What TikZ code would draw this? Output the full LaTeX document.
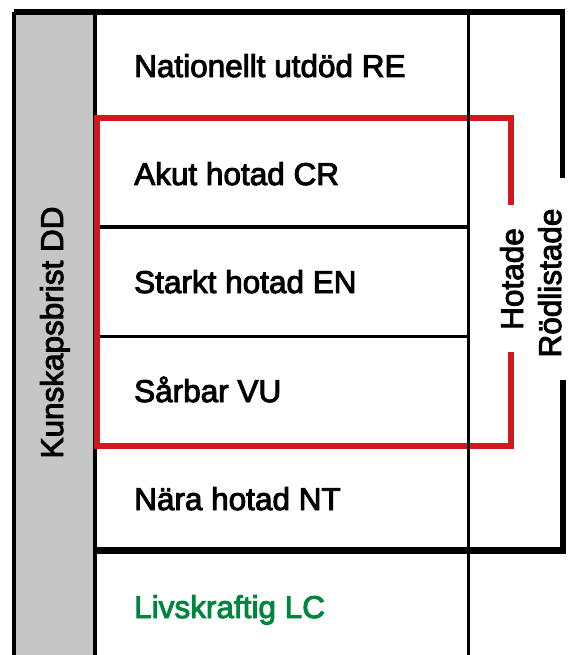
\documentclass[tikz,border=0pt]{standalone}
\usepackage{fontspec}
\setmainfont{Liberation Sans}[FakeBold=3]
\definecolor{listred}{RGB}{208,24,30}
\definecolor{listgreen}{RGB}{0,133,62}
\definecolor{ddgray}{RGB}{198,198,198}
\begin{document}
\begin{tikzpicture}[x=1pt,y=-1pt,
    rowtext/.style={anchor=base west,inner sep=0pt,font=\fontsize{31.5}{36}\selectfont},
    sidetext/.style={anchor=base,rotate=90,inner sep=0pt,font=\fontsize{31.5}{36}\selectfont}]
                \useasboundingbox (0,0) rectangle (568,655);
                \fill[ddgray] (14,12) rectangle (95,655);
                % grid
                \draw[line width=4.5pt] (14,655) -- (14,12);
                \draw[line width=5.5pt] (14,12) -- (562.5,12) -- (562.5,178);
                \draw[line width=6pt] (562.5,380) -- (562.5,550);
                \draw[line width=7pt] (95,550) -- (565.5,550);
                \draw[line width=4pt] (95,12) -- (95,655);
                \draw[line width=3.5pt] (97,227) -- (468.5,227);
                \draw[line width=3.5pt] (97,336.5) -- (468.5,336.5);
                % hotade
                \draw[listred,line width=6pt] (511,205) -- (511,118.5) -- (97,118.5)
                    -- (97,445.5) -- (511,445.5) -- (511,352);
                \draw[line width=3.5pt] (468.5,12) -- (468.5,655);
                \node[rowtext] (re) at (134,77) {Nationellt utdöd RE};
                \node[rowtext] (cr) at (134,185) {Akut hotad CR};
                \node[rowtext] (en) at (134,293) {Starkt hotad EN};
                \node[rowtext] (vu) at (134,402) {Sårbar VU};
                \node[rowtext] (nt) at (134,510) {Nära hotad NT};
                \node[rowtext,text=listgreen] (lc) at (134,618) {Livskraftig LC};
                \node[sidetext] (dd) at (63,332.5) {Kunskapsbrist DD};
                \node[sidetext] (hotade) at (523,279) {Hotade};
                \node[sidetext] (rodlistade) at (561,283) {Rödlistade};
            \end{tikzpicture}
\end{document}
